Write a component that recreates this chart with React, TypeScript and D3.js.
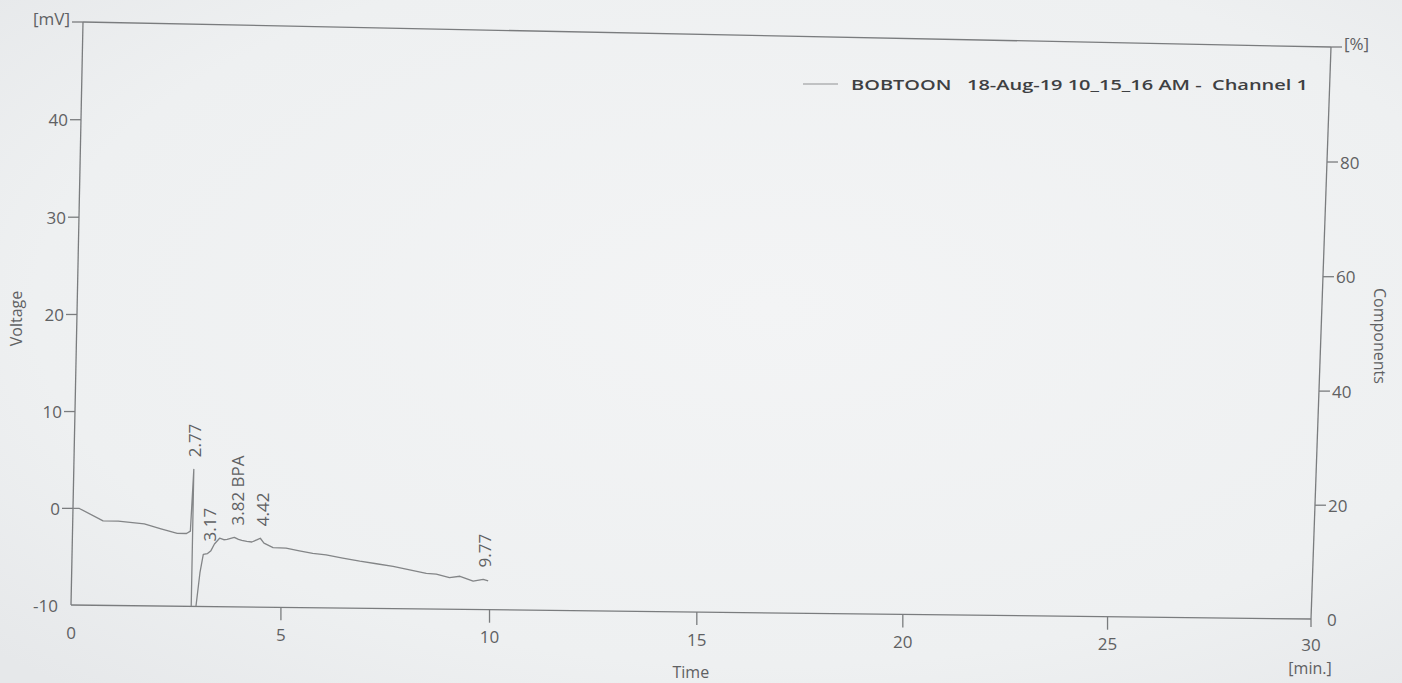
import React from "react";
import * as d3 from "d3";

// ---- data ----
const traceTimes = [
  0, 0.15, 0.72, 1.08, 1.7, 2.1, 2.49, 2.71, 2.8, 2.85, 2.86, 2.95, 3.05, 3.12, 3.22, 3.3,
  3.38, 3.5, 3.6, 3.68, 3.85, 3.95, 4.03, 4.15, 4.27, 4.4, 4.47, 4.56, 4.78, 5.09, 5.41,
  5.73, 6.05, 6.45, 6.86, 7.26, 7.66, 8.06, 8.46, 8.7, 9.02, 9.27, 9.59, 9.83, 9.95,
];
const traceValues = [
  0, 0, -1.25, -1.25, -1.5, -2.0, -2.45, -2.45, -2.2, 4.2, -11, -11, -6.5, -4.6, -4.5, -4.2,
  -3.5, -2.9, -3.05, -3.0, -2.8, -3.0, -3.1, -3.2, -3.25, -3.0, -2.85, -3.35, -3.8, -3.85, -4.1,
  -4.35, -4.5, -4.8, -5.1, -5.35, -5.6, -5.95, -6.3, -6.35, -6.7, -6.55, -7.05, -6.85, -7.0,
];
const peakTimes = [2.77, 3.17, 3.82, 4.42, 9.77];
const peakNames = ["", "", " BPA", "", ""];
const xTicks = [0, 5, 10, 15, 20, 25, 30];
const leftTicks = [-10, 0, 10, 20, 30, 40];
const rightTicks = [0, 20, 40, 60, 80];
const legendText = "BOBTOON   18-Aug-19 10_15_16 AM -  Channel 1";

// ---- page geometry (photo of a printed sheet: frame is a slightly skewed quad) ----
const W = 1402;
const HGT = 683;
const TL = [83, 22];
const TR = [1331, 47];
const BR = [1311, 619];
const BL = [71, 605];

function makeHomography() {
  const [x0, y0] = TL, [x1, y1] = TR, [x2, y2] = BR, [x3, y3] = BL;
  const dx1 = x1 - x2, dy1 = y1 - y2, dx2 = x3 - x2, dy2 = y3 - y2;
  const dx3 = x0 - x1 + x2 - x3, dy3 = y0 - y1 + y2 - y3;
  const den = dx1 * dy2 - dx2 * dy1;
  const g = (dx3 * dy2 - dx2 * dy3) / den;
  const h = (dx1 * dy3 - dx3 * dy1) / den;
  const a = x1 - x0 + g * x1, b = x3 - x0 + h * x3, c = x0;
  const d = y1 - y0 + g * y1, e = y3 - y0 + h * y3, f = y0;
  return (s: number, t: number): [number, number] => {
    const w = g * s + h * t + 1;
    return [(a * s + b * t + c) / w, (d * s + e * t + f) / w];
  };
}
const P = makeHomography();

const xScale = d3.scaleLinear().domain([0, 30]).range([0, 1]);
const yLeft = d3.scaleLinear().domain([-10, 50]).range([1, 0]);
const yRight = d3.scaleLinear().domain([0, 100]).range([1, 0]);

const FONT = "'Open Sans', 'Noto Sans', sans-serif";
const AXIS = "#7a7c7e";
const TEXT = "#5f6163";

export default function App() {
  const data: [number, number][] = traceTimes.map((t, i) => [t, traceValues[i]]);
  const proj = (t: number, v: number) => P(xScale(t), yLeft(v));
  const line = d3
    .line<[number, number]>()
    .x((d) => proj(d[0], d[1])[0])
    .y((d) => proj(d[0], d[1])[1]);

  const clipPts = [TL, TR, BR, BL].map((p) => p.join(",")).join(" ");

  const seg = (a: [number, number], b: [number, number], key: string) => (
    <line key={key} x1={a[0]} y1={a[1]} x2={b[0]} y2={b[1]} stroke={AXIS} strokeWidth={1.3} />
  );

  // peak labels: above the highest trace point near the peak time
  const peakLabels = peakTimes.map((pt, i) => {
    const near = data.filter((d) => Math.abs(d[0] - pt) <= 0.1);
    const maxV = d3.max(near, (d) => d[1]) ?? 0;
    const [px, py] = proj(pt, maxV);
    const x = px + 4;
    const y = py - 12;
    return (
      <text
        key={"pk" + i}
        transform={`translate(${x},${y}) rotate(-90)`}
        textAnchor="start"
        dominantBaseline="central"
        fontSize={17}
        fill={TEXT}
        fontFamily={FONT}
      >
        {pt.toFixed(2) + peakNames[i]}
      </text>
    );
  });

  return (
    <svg
      width={W}
      height={HGT}
      style={{ position: "absolute", left: 0, top: 0, display: "block" }}
    >
      <defs>
        <radialGradient id="paper" cx="55%" cy="45%" r="75%">
          <stop offset="0%" stopColor="#f3f4f5" />
          <stop offset="70%" stopColor="#eef0f1" />
          <stop offset="100%" stopColor="#e6e8ea" />
        </radialGradient>
        <clipPath id="plotClip">
          <polygon points={clipPts} />
        </clipPath>
      </defs>
      <rect x={0} y={0} width={W} height={HGT} fill="url(#paper)" />

      {/* frame */}
      {seg(P(0, 0), P(1, 0), "top")}
      {seg(P(1, 0), P(1, 1), "right")}
      {seg(P(0, 1), P(1, 1), "bottom")}
      {seg(P(0, 0), P(0, 1), "left")}

      {/* left axis ticks */}
      {leftTicks.map((v) => {
        const p = P(0, yLeft(v));
        return (
          <g key={"l" + v}>
            {v !== -10 && seg(p, [p[0] - 11, p[1]], "lt" + v)}
            <text x={p[0] - 13} y={p[1]} textAnchor="end" dominantBaseline="central"
              fontSize={17} fill={TEXT} fontFamily={FONT}>{v}</text>
          </g>
        );
      })}
      {(() => {
        const p = P(0, 0);
        return (
          <g>
            {seg(p, [p[0] - 11, p[1]], "mvt")}
            <text x={p[0] - 13} y={p[1] - 4} textAnchor="end" dominantBaseline="central"
              fontSize={17} fill={TEXT} fontFamily={FONT}>[mV]</text>
          </g>
        );
      })()}

      {/* right axis ticks */}
      {rightTicks.map((v) => {
        const p = P(1, yRight(v));
        return (
          <g key={"r" + v}>
            {v !== 0 && seg(p, [p[0] + 11, p[1]], "rt" + v)}
            <text x={p[0] + (v === 0 ? 16 : 13)} y={p[1]} textAnchor="start" dominantBaseline="central"
              fontSize={17} fill={TEXT} fontFamily={FONT}>{v}</text>
          </g>
        );
      })}
      {(() => {
        const p = P(1, 0);
        return (
          <g>
            {seg(p, [p[0] + 11, p[1]], "pct")}
            <text x={p[0] + 13} y={p[1] - 4} textAnchor="start" dominantBaseline="central"
              fontSize={17} fill={TEXT} fontFamily={FONT}>[%]</text>
          </g>
        );
      })()}

      {/* bottom axis ticks */}
      {xTicks.map((t) => {
        const p = P(xScale(t), 1);
        return (
          <g key={"x" + t}>
            {t !== 0 && seg(p, [p[0], p[1] + (t === 30 ? 8 : 13)], "xt" + t)}
            <text x={p[0]} y={p[1] + (t === 30 ? 25 : 27)} textAnchor="middle" dominantBaseline="central"
              fontSize={17} fill={TEXT} fontFamily={FONT}>{t}</text>
          </g>
        );
      })}
      {(() => {
        const p = P(1, 1);
        return (
          <text x={p[0] - 1} y={p[1] + 49} textAnchor="middle" dominantBaseline="central"
            fontSize={16} fill={TEXT} fontFamily={FONT}>[min.]</text>
        );
      })()}

      {/* axis titles */}
      {(() => {
        const pb = P(0.5, 1);
        const pl = P(0, 0.5);
        const pr = P(1, 0.5);
        return (
          <g fontFamily={FONT} fill={TEXT} fontSize={16}>
            <text x={pb[0] - 6} y={pb[1] + 60} textAnchor="middle" dominantBaseline="central">Time</text>
            <text transform={`translate(${pl[0] - 61},${pl[1] + 4}) rotate(-90)`} textAnchor="middle"
              dominantBaseline="central">Voltage</text>
            <text transform={`translate(${pr[0] + 59},${pr[1] + 2}) rotate(90)`} textAnchor="middle"
              dominantBaseline="central">Components</text>
          </g>
        );
      })()}

      {/* trace */}
      <g clipPath="url(#plotClip)">
        <path d={line(data) ?? ""} fill="none" stroke="#838587" strokeWidth={1.3} strokeLinejoin="round" />
      </g>
      {peakLabels}

      {/* legend */}
      <line x1={803} y1={84} x2={838} y2={84} stroke="#8f9193" strokeWidth={1.2} />
      <text x={851} y={84} dominantBaseline="central" fontSize={15} fontWeight={600} fill="#3e4042"
        fontFamily={FONT} textLength={457} lengthAdjust="spacingAndGlyphs" style={{ whiteSpace: "pre" }}>
        {legendText}
      </text>
    </svg>
  );
}
